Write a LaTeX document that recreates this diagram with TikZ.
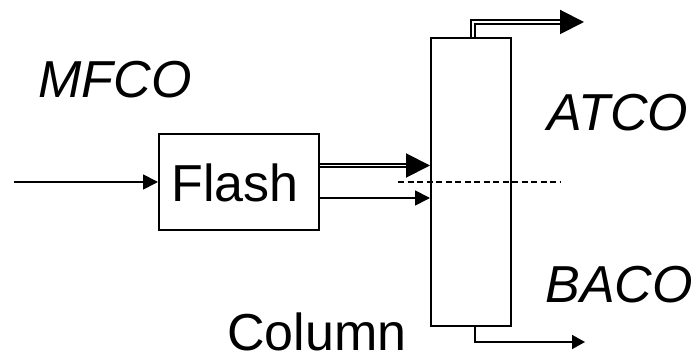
\documentclass[tikz,border=0pt]{standalone}
\usepackage{fontspec}
\setmainfont{Liberation Sans}
\usetikzlibrary{positioning, arrows.meta}
\tikzset{x=1pt, y=1pt,
unit/.style={draw, line width=2pt, inner sep=0pt},
big/.style={font=\fontsize{52}{60}\selectfont, inner sep=0pt, anchor=base},
stream/.style={line width=1.7pt, -{Triangle[length=15pt,width=15pt]}},
vapour/.style={line width=2pt, double, double distance=1.6pt, -{Triangle[length=24pt,width=24pt]}},
}

\begin{document}
\begin{tikzpicture}
	\useasboundingbox (0,0) rectangle (700,358);
	\node[unit, minimum width=160pt, minimum height=96pt] (flash) at (239,176) {};
	\node[unit, minimum width=80pt, minimum height=288pt] (column) at (471,176) {};
	\node[big] (flashtext) at (235,156) {Flash};
	\node[big] (mfco) at (115,260) {\itshape MFCO};
	\node[big] (atco) at (618,227) {\itshape ATCO};
	\node[big] (baco) at (619,55) {\itshape BACO};
	\node[big] (coltext) at (317,7) {Column};
	\coordinate (feed) at (14,176);
	\coordinate (top) at (584,336);
	\coordinate (bottom) at (585,16);
	\draw[stream] (feed) -- (flash.west);
	\draw[vapour] ([yshift=16.5pt]flash.east) -- ([yshift=16.5pt]column.west);
	\draw[stream] ([yshift=-16pt]flash.east) -- ([yshift=-16pt]column.west);
	\draw[vapour] ([xshift=2pt]column.north) |- (top);
	\draw[stream, -{Triangle[length=13pt,width=14pt]}] ([xshift=4pt]column.south) |- (bottom);
	\draw[line width=1.8pt, dash pattern=on 6pt off 3.5pt] (398,176) -- (560,176);
\end{tikzpicture}
\end{document}
